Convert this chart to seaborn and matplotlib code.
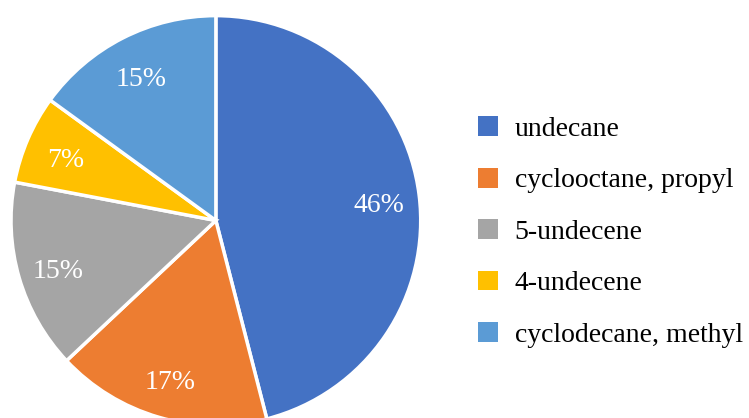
import numpy as np
import pandas as pd
import seaborn as sns
import matplotlib.pyplot as plt
from matplotlib.patches import Patch

compounds = ["undecane", "cyclooctane, propyl", "5-undecene", "4-undecene", "cyclodecane, methyl"]
shares = [46, 17, 15, 7, 15]
colors = ["#4472C4", "#ED7D31", "#A5A5A5", "#FFC000", "#5B9BD5"]

sns.set_theme(style="white")
plt.rcParams['font.family'] = ['Liberation Serif', 'DejaVu Serif']

fig = plt.figure(figsize=(7.49, 4.18), dpi=100)
ax = fig.add_axes([0.0147, -0.018, 0.547, 0.981])

palette = sns.color_palette(colors)
wedges, texts, autotexts = ax.pie(
    shares, colors=palette, startangle=90, counterclock=False,
    autopct='%1.0f%%', pctdistance=0.8, radius=1,
    wedgeprops=dict(edgecolor='white', linewidth=2.5),
    textprops=dict(color='white', fontsize=20))
for t in autotexts:
    x, y = t.get_position()
    t.set_position((x, y - 0.025))
ax.set_xlim(-1, 1)
ax.set_ylim(-1, 1)
ax.set_aspect('equal')
ax.axis('off')

handles = [Patch(facecolor=c, edgecolor='none') for c in palette]
leg = fig.legend(handles, compounds, loc='center left', bbox_to_anchor=(0.638, 0.445),
                 frameon=False, fontsize=20, handlelength=0.72, handleheight=0.72,
                 handletextpad=0.6, labelspacing=0.93, borderpad=0, borderaxespad=0)
for t in leg.get_texts():
    t.set_color('black')

plt.savefig("out.png", dpi=100)
